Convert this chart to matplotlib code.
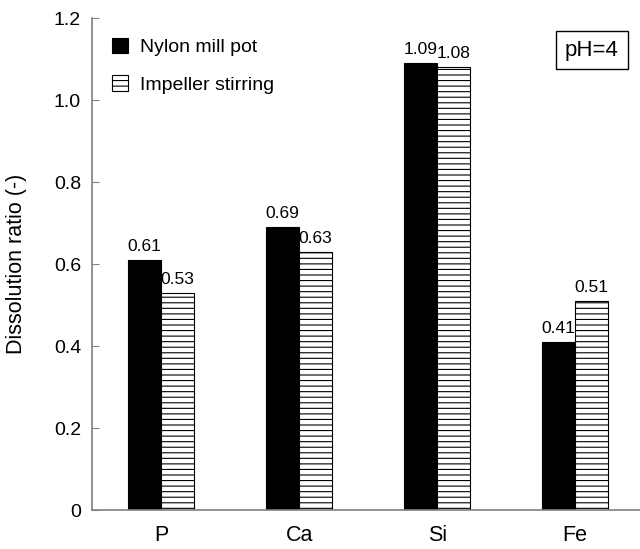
import matplotlib
matplotlib.use('Agg')
import matplotlib.pyplot as plt
import numpy as np

plt.rcParams['font.family'] = ['Liberation Sans', 'DejaVu Sans']
plt.rcParams['hatch.linewidth'] = 0.8

categories = ['P', 'Ca', 'Si', 'Fe']
nylon = [0.61, 0.69, 1.09, 0.41]
impeller = [0.53, 0.63, 1.08, 0.51]
nylon_labels = ['0.61', '0.69', '1.09', '0.41']
impeller_labels = ['0.53', '0.63', '1.08', '0.51']
yticks = [0, 0.2, 0.4, 0.6, 0.8, 1.0, 1.2]
ytick_labels = ['0', '0.2', '0.4', '0.6', '0.8', '1.0', '1.2']

fig = plt.figure(figsize=(6.4, 5.49), dpi=100)
ax = fig.add_axes([0.144, 0.071, 0.856, 0.896])

x = np.arange(len(categories))
w = 0.24
ax.bar(x - w / 2, nylon, w, color='black', edgecolor='black',
       linewidth=0.8, label='Nylon mill pot')
ax.bar(x + w / 2, impeller, w, color='white', edgecolor='black',
       linewidth=0.8, hatch='---', label='Impeller stirring')

for xi, v, s in zip(x - w / 2, nylon, nylon_labels):
    ax.text(xi, v + 0.015, s, ha='center', va='bottom', fontsize=12.5)
for xi, v, s in zip(x + w / 2, impeller, impeller_labels):
    ax.text(xi, v + 0.015, s, ha='center', va='bottom', fontsize=12.5)

ax.set_xlim(-0.5, 3.47)
ax.set_ylim(0, 1.2)
ax.set_xticks(x)
ax.set_xticklabels(categories, fontsize=15.5)
ax.set_yticks(yticks)
ax.set_yticklabels(ytick_labels, fontsize=14)
ax.tick_params(axis='x', length=0, pad=11)
ax.tick_params(axis='y', direction='in', length=5, color='#808080', pad=8)
ax.set_ylabel('Dissolution ratio (-)', fontsize=15.5, labelpad=19)

for s in ['top', 'right']:
    ax.spines[s].set_visible(False)
for s in ['left', 'bottom']:
    ax.spines[s].set_color('#808080')
    ax.spines[s].set_linewidth(1.2)

ax.legend(loc='upper left', bbox_to_anchor=(0.0, 1.0), frameon=False,
          fontsize=14, handlelength=0.85, handleheight=0.85,
          handletextpad=0.6, labelspacing=1.0, borderpad=0.5)

ax.text(0.912, 0.935, 'pH=4', transform=ax.transAxes, ha='center', va='center',
        fontsize=16, bbox=dict(boxstyle='square,pad=0.4', facecolor='white',
                               edgecolor='black', linewidth=1.0))

fig.savefig('out.png', dpi=100)
